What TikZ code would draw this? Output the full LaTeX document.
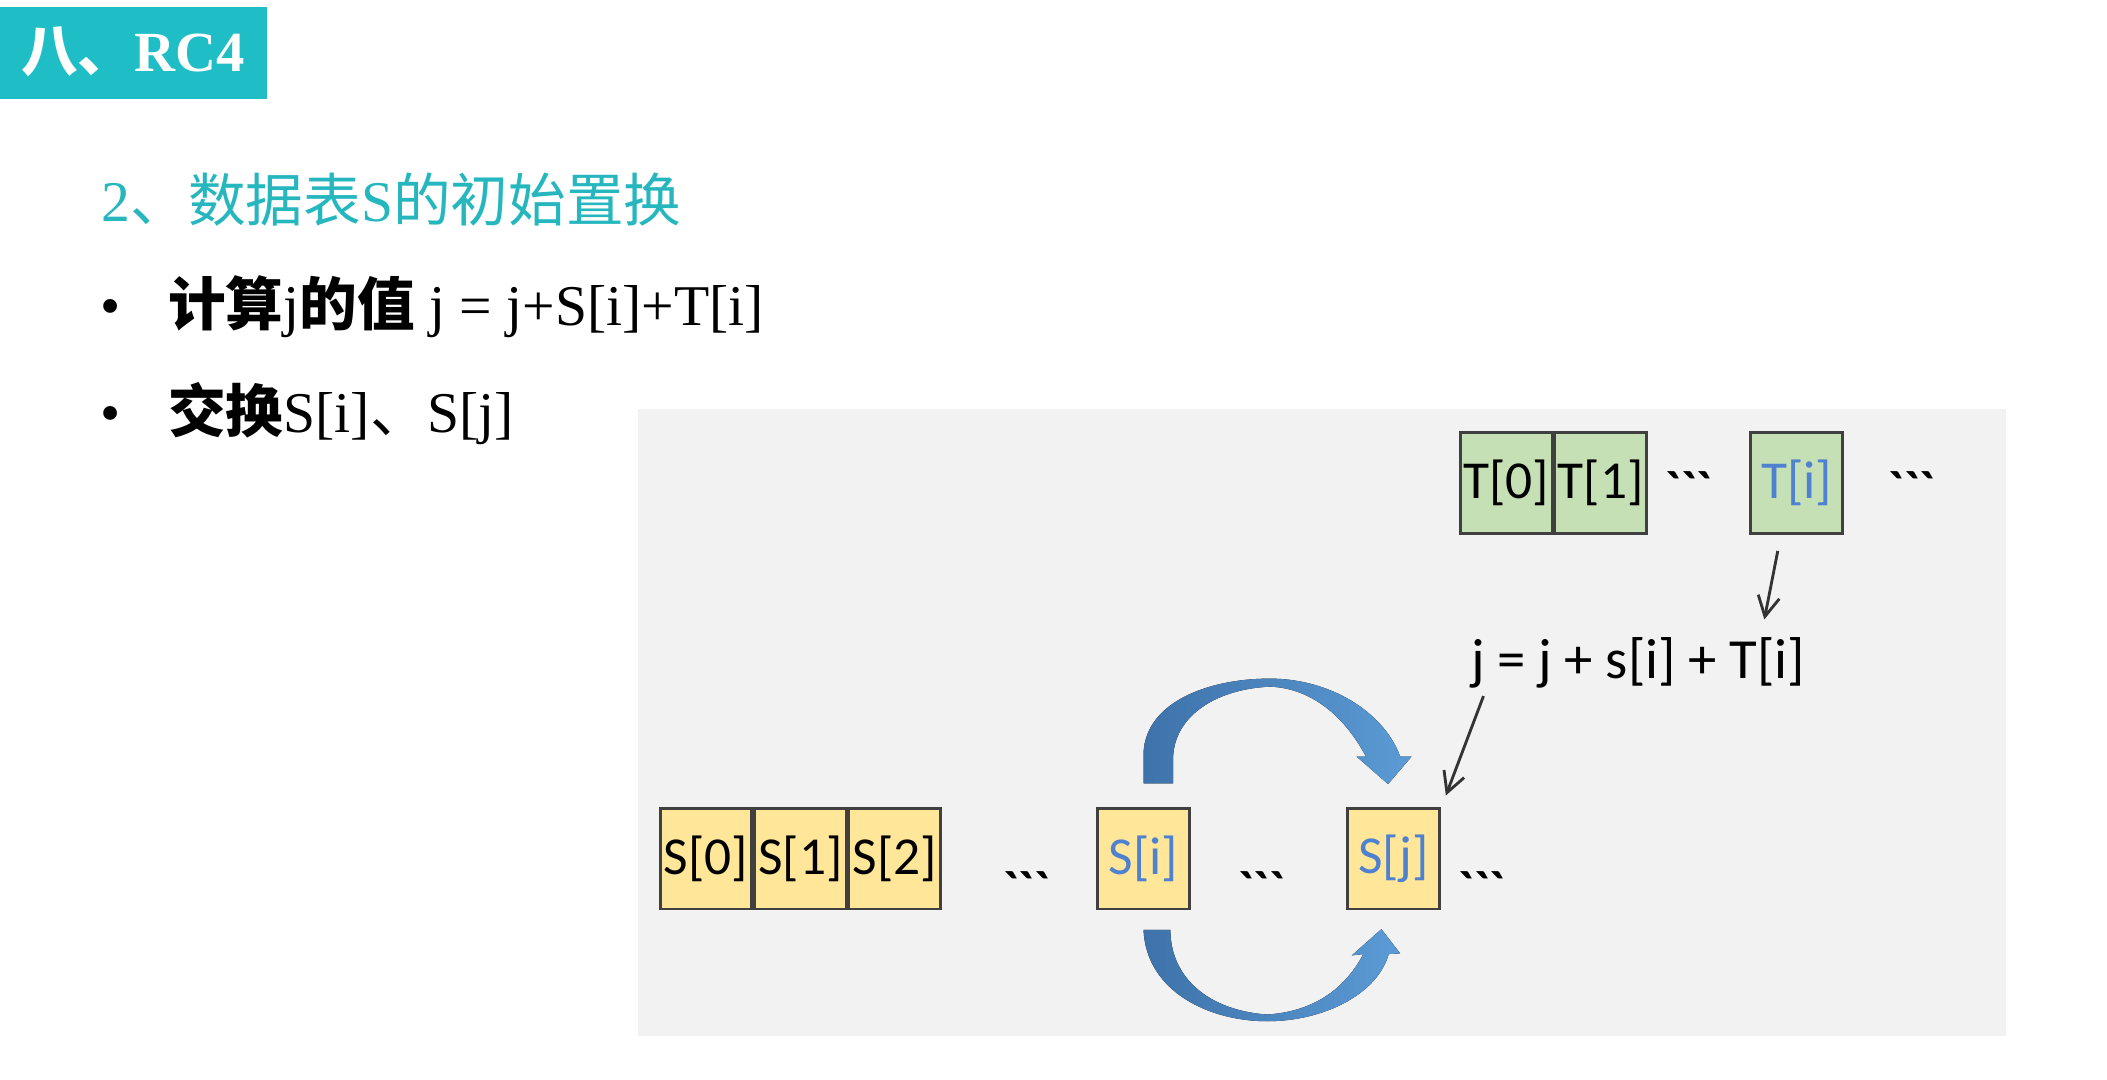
\documentclass[tikz,border=0pt]{standalone}
\usepackage{fontspec}
\setmainfont{Liberation Serif}
\newfontfamily\cjk{Noto Sans CJK SC}
\newfontfamily\calib{Carlito}
\usetikzlibrary{arrows.meta,positioning}

\definecolor{teal1}{RGB}{31,190,198}
\definecolor{teal2}{RGB}{38,183,190}
\definecolor{panelgray}{RGB}{242,242,242}
\definecolor{syellow}{RGB}{255,230,153}
\definecolor{tgreen}{RGB}{197,224,180}
\definecolor{boxline}{RGB}{64,64,64}
\definecolor{idxblue}{RGB}{79,129,209}
\definecolor{arrdark}{RGB}{62,114,170}
\definecolor{arrlight}{RGB}{91,155,213}

\begin{document}
\begin{tikzpicture}[
        x=0.01cm, y=-0.01cm,
        sbox/.style={draw=boxline, fill=syellow, line width=0.6pt,
            minimum width=0.68cm, minimum height=0.75cm, inner sep=0pt,
            font=\calib\fontsize{11.3pt}{13pt}\selectfont},
        tbox/.style={sbox, fill=tgreen},
        gaps/.style={anchor=base, inner sep=0pt,
            font=\calib\bfseries\fontsize{11pt}{13pt}\selectfont},
        thin arrow/.style={draw=black!80, line width=0.6pt,
            -{Straight Barb[length=1.5mm,width=1.6mm]}},
        swap/.style={left color=arrdark, right color=arrlight},
        line/.style={anchor=base west, inner sep=0pt,
            font=\fontsize{12.2pt}{15pt}\selectfont},
    ]
    \useasboundingbox (0,0) rectangle (1568,803);

    % heading
    \fill[teal1] (0,5) rectangle (199,74);
    \node[anchor=base west, inner sep=0pt, text=white,
          font=\fontsize{12pt}{14pt}\selectfont] (head) at (15,53)
          {{\cjk\bfseries 八、}\textbf{RC4}};
    \node[line, text=teal2, font=\fontsize{12.2pt}{15pt}\selectfont] (sub) at (75,165)
          {2{\cjk 、数据表}S{\cjk 的初始置换}};

    % bullets
    \node[line] (b1) at (74,242) {•};
    \node[line] (l1) at (124.5,242)
          {{\cjk\bfseries 计算}j{\cjk\bfseries 的值} j = j+S[i]+T[i]};
    \node[line] (b2) at (74,322) {•};
    \node[line] (l2) at (124.5,322)
          {{\cjk\bfseries 交换}S[i]{\cjk 、}S[j]};

    % panel
    \fill[panelgray] (475,304) rectangle (1493,771);

    % T table
    \node[tbox] (t0) at (1121,359.5) {T[0]};
    \node[tbox, right=0pt of t0] (t1) {T[1]};
    \node[gaps] (tg1) at (1257,378) {\symbol{"60}\symbol{"60}\symbol{"60}};
    \node[tbox] (ti) at (1337,359.5) {\textcolor{idxblue}{T[i]}};
    \node[gaps] (tg2) at (1423,378) {\symbol{"60}\symbol{"60}\symbol{"60}};

    % formula
    \node[anchor=base west, inner sep=0pt,
          font=\calib\fontsize{12pt}{14pt}\selectfont] (jform) at (1094,504.6)
          {j = j + s[i] + T[i]};
    \coordinate (t2f) at (1323,410);
    \coordinate (f2t) at (1313,461);
    \coordinate (f2s) at (1104,518);
    \coordinate (s2f) at (1076,592);
    \draw[thin arrow] (t2f) -- (f2t);
    \draw[thin arrow] (f2s) -- (s2f);

    % S table
    \node[sbox] (s0) at (525.5,639) {S[0]};
    \node[sbox, right=0pt of s0] (s1) {S[1]};
    \node[sbox, right=0pt of s1] (s2) {S[2]};
    \node[gaps] (sg1) at (764,675) {\symbol{"60}\symbol{"60}\symbol{"60}};
    \node[sbox] (si) at (851,639) {\textcolor{idxblue}{S[i]}};
    \node[gaps] (sg2) at (939,675) {\symbol{"60}\symbol{"60}\symbol{"60}};
    \node[sbox] (sj) at (1037,639) {\textcolor{idxblue}{S[j]}};
    \node[gaps] (sg3) at (1103,675) {\symbol{"60}\symbol{"60}\symbol{"60}};

    % swap arrows
    \fill[swap] (851,583) -- (851,560)
        .. controls (853,522) and (900,505) .. (945,505)
        .. controls (990,505) and (1030,530) .. (1042,563)
        -- (1050.5,563) -- (1033,583.5) -- (1009.5,563) -- (1016.5,563)
        .. controls (1000,532) and (975,512) .. (945,511)
        .. controls (902,513) and (873,535) .. (873,565) -- (873,583) -- cycle;
    \fill[swap] (851,692)
        .. controls (853,738) and (900,760) .. (943,760)
        .. controls (985,760) and (1025,740) .. (1033.5,710)
        -- (1042,709.5) -- (1028,691.5) -- (1006,711) -- (1014.5,710)
        .. controls (1000,738) and (975,753) .. (943,755)
        .. controls (900,752) and (871,728) .. (871,692) -- cycle;
\end{tikzpicture}
\end{document}
